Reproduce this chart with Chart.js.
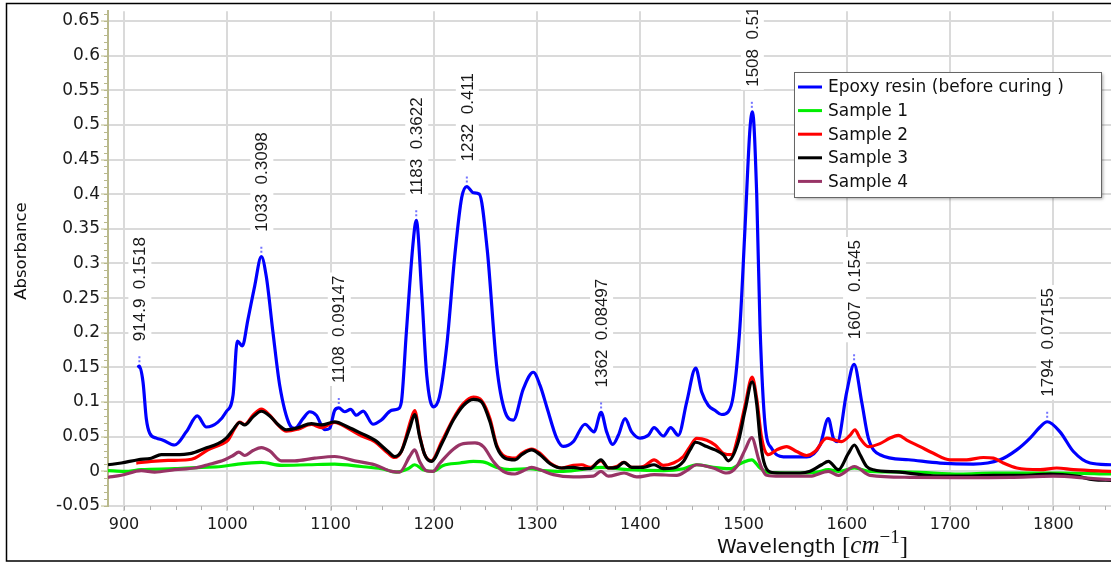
<!DOCTYPE html>
<html>
<head>
<meta charset="utf-8">
<title>FTIR spectra</title>
<script src="https://cdn.jsdelivr.net/npm/chart.js@4.4.1/dist/chart.umd.min.js"></script>
<style>
    html, body { margin: 0; padding: 0; background: #fff; }
    #wrap { width: 1111px; height: 562px; }
</style>
</head>
<body>
<div id="wrap"><canvas id="ftirChart" width="1111" height="562"></canvas></div>
<script>
// ==================== data ====================

const seriesNames = ['Epoxy resin (before curing )', 'Sample 1', 'Sample 2', 'Sample 3', 'Sample 4'];
const seriesColors = ['#0000ff', '#00ee00', '#ff0000', '#000000', '#983466'];

const epoxyWn = [913, 914.9, 918.4, 921.6, 924.9, 931.3, 937.8, 949, 960.3, 971, 979.7, 991, 999, 1005.6, 1009.7, 1014.6, 1020, 1026.5, 1033, 1037.8, 1044.3, 1050.8, 1060.5, 1065.3, 1073.3, 1079.8, 1086.2, 1094.4, 1099.2, 1104, 1108, 1113.7, 1119.5, 1125, 1131.5, 1141.1, 1149.2, 1158.9, 1165.3, 1168.6, 1173.4, 1179.9, 1183, 1188.3, 1193.2, 1199.5, 1205.4, 1212.5, 1220.5, 1227, 1232, 1238.3, 1244.1, 1251.8, 1260.9, 1269, 1277, 1286.7, 1296.4, 1302.9, 1309.4, 1319, 1325.4, 1335.1, 1346.4, 1355.2, 1362, 1367.4, 1373.3, 1378.7, 1385.2, 1391.6, 1399.7, 1407.7, 1413.3, 1422.3, 1429.4, 1436.8, 1444.9, 1453.6, 1459.5, 1465.9, 1472.3, 1478.8, 1485.2, 1490.1, 1496.5, 1501.4, 1506.2, 1508.6, 1512.7, 1515.9, 1520.8, 1527.2, 1538.5, 1561.1, 1574, 1582.1, 1586.9, 1590.8, 1599.8, 1607, 1614.4, 1620.8, 1632.1, 1659.8, 1690.2, 1722.5, 1748.3, 1764.5, 1777.4, 1787.1, 1794, 1806.4, 1819.4, 1835.5, 1856];
const epoxyAbs = [0.150, 0.1518, 0.129, 0.076, 0.055, 0.048, 0.045, 0.038, 0.057, 0.080, 0.064, 0.071, 0.086, 0.110, 0.188, 0.181, 0.219, 0.267, 0.3098, 0.281, 0.200, 0.124, 0.067, 0.062, 0.076, 0.086, 0.081, 0.060, 0.062, 0.088, 0.0915, 0.086, 0.0895, 0.081, 0.087, 0.068, 0.074, 0.088, 0.090, 0.100, 0.200, 0.329, 0.3622, 0.257, 0.138, 0.093, 0.107, 0.181, 0.314, 0.395, 0.411, 0.402, 0.400, 0.319, 0.152, 0.086, 0.074, 0.119, 0.143, 0.124, 0.093, 0.048, 0.036, 0.043, 0.068, 0.057, 0.085, 0.057, 0.039, 0.052, 0.076, 0.057, 0.048, 0.052, 0.063, 0.051, 0.063, 0.052, 0.100, 0.149, 0.114, 0.095, 0.088, 0.082, 0.086, 0.110, 0.210, 0.352, 0.495, 0.5188, 0.400, 0.210, 0.067, 0.033, 0.021, 0.021, 0.038, 0.076, 0.048, 0.043, 0.114, 0.1545, 0.100, 0.048, 0.024, 0.0167, 0.012, 0.0105, 0.0167, 0.031, 0.048, 0.064, 0.0716, 0.057, 0.0286, 0.012, 0.0095];

const sample1Wn = [884.5, 900.6, 916.7, 949.1, 974.9, 994.2, 1010.4, 1033, 1052.3, 1078.2, 1104, 1129.8, 1149.2, 1163.7, 1175, 1181.5, 1189.6, 1199.2, 1209.2, 1225.4, 1238.3, 1249.6, 1260.9, 1273.8, 1293.2, 1306.1, 1325.4, 1361.9, 1390, 1422.3, 1441.7, 1454.6, 1470.7, 1486.9, 1498.2, 1507.9, 1515.9, 1522.4, 1548.2, 1570.8, 1582.1, 1591.8, 1607.3, 1622.5, 1661.2, 1709.6, 1741.9, 1806.4, 1856];
const sample1Abs = [0.001, 0.0, 0.0024, 0.0038, 0.0057, 0.007, 0.0105, 0.0129, 0.0086, 0.0095, 0.0105, 0.007, 0.0038, -0.001, 0.0038, 0.0095, 0.0024, 0.0, 0.0086, 0.012, 0.0143, 0.0129, 0.0057, 0.0024, 0.0038, 0.001, 0.0, 0.0057, 0.0024, 0.001, 0.0038, 0.0095, 0.0057, 0.0038, 0.012, 0.0167, 0.0048, -0.001, -0.0024, -0.001, 0.0024, 0.0, 0.0048, 0.0, -0.001, -0.0038, -0.0024, -0.0024, -0.0038];

const sample2Wn = [911.9, 926.4, 942.6, 962, 968.4, 981.3, 994.2, 1000.7, 1007.2, 1012, 1016.9, 1024.9, 1033, 1041.1, 1049.1, 1057.2, 1068.5, 1081.4, 1091.1, 1104, 1116.9, 1129.8, 1142.8, 1155.7, 1162.1, 1168.5, 1178.2, 1181.5, 1186.3, 1191.2, 1197.6, 1207.7, 1218.9, 1228.6, 1238.3, 1246.4, 1254.4, 1260.9, 1269, 1278.7, 1285.1, 1294.8, 1302.9, 1312.6, 1323.9, 1335.1, 1343.2, 1351.3, 1361.9, 1369, 1377.1, 1384.2, 1391.6, 1402.9, 1413.3, 1422.3, 1432, 1441.7, 1448.1, 1454.6, 1464.3, 1472.4, 1480.4, 1488.5, 1494.9, 1501.4, 1508.3, 1512.7, 1517.5, 1524, 1532.1, 1541.7, 1551.4, 1561.1, 1569.1, 1580.5, 1588.5, 1595, 1603, 1607.9, 1612.7, 1620.8, 1632.1, 1641.8, 1649.9, 1658, 1670.9, 1683.8, 1699.9, 1716.1, 1732.2, 1741.9, 1751.5, 1764.5, 1787.1, 1803.2, 1819.4, 1856];
const sample2Abs = [0.012, 0.0143, 0.0157, 0.0167, 0.019, 0.031, 0.039, 0.045, 0.062, 0.071, 0.0676, 0.081, 0.090, 0.081, 0.067, 0.058, 0.061, 0.0676, 0.063, 0.0705, 0.062, 0.0514, 0.043, 0.026, 0.020, 0.0286, 0.076, 0.0875, 0.052, 0.024, 0.0152, 0.043, 0.076, 0.0976, 0.107, 0.102, 0.076, 0.038, 0.0214, 0.019, 0.026, 0.032, 0.026, 0.012, 0.0048, 0.0086, 0.0095, 0.0057, 0.0152, 0.0048, 0.007, 0.0129, 0.0057, 0.007, 0.0167, 0.0086, 0.012, 0.0214, 0.0357, 0.0476, 0.045, 0.038, 0.026, 0.024, 0.052, 0.095, 0.136, 0.105, 0.048, 0.024, 0.031, 0.0357, 0.0286, 0.0229, 0.0286, 0.048, 0.045, 0.043, 0.052, 0.060, 0.048, 0.0357, 0.040, 0.048, 0.052, 0.045, 0.0357, 0.026, 0.0167, 0.0167, 0.020, 0.019, 0.012, 0.0048, 0.0024, 0.0048, 0.0024, 0.0];

const sample3Wn = [884.5, 897.4, 913.6, 926.4, 936.1, 949.1, 965.2, 978.1, 991, 999.1, 1005.6, 1012, 1016.9, 1024.9, 1033, 1041.1, 1049.1, 1057.2, 1068.5, 1081.4, 1091.1, 1104, 1116.9, 1129.8, 1142.8, 1155.7, 1162.1, 1168.5, 1176.6, 1181.5, 1186.3, 1191.2, 1197.6, 1207.7, 1218.9, 1228.6, 1238.3, 1246.4, 1254.4, 1260.9, 1269, 1278.7, 1285.1, 1294.8, 1302.9, 1312.6, 1323.9, 1335.1, 1343.2, 1351.3, 1361.9, 1369, 1377.1, 1384.2, 1391.6, 1402.9, 1413.3, 1422.3, 1432, 1441.7, 1448.1, 1453.6, 1464.3, 1472.4, 1480.4, 1485.2, 1494.9, 1501.4, 1508.3, 1512.7, 1515.9, 1519.5, 1525.6, 1535.3, 1554.7, 1564.4, 1575.6, 1582.1, 1591.8, 1601.5, 1607.3, 1612.8, 1619.2, 1625.7, 1651.5, 1677.3, 1709.6, 1741.9, 1774.2, 1796.8, 1822.6, 1838.7, 1856];
const sample3Abs = [0.0095, 0.012, 0.0167, 0.019, 0.024, 0.024, 0.026, 0.033, 0.040, 0.048, 0.060, 0.0705, 0.067, 0.0786, 0.0867, 0.080, 0.0676, 0.060, 0.063, 0.069, 0.067, 0.0714, 0.064, 0.0548, 0.045, 0.0286, 0.0214, 0.0286, 0.062, 0.082, 0.050, 0.024, 0.0143, 0.040, 0.074, 0.095, 0.104, 0.100, 0.0714, 0.0357, 0.019, 0.0167, 0.024, 0.031, 0.024, 0.011, 0.0048, 0.0057, 0.0038, 0.0038, 0.0167, 0.0048, 0.0057, 0.0129, 0.0057, 0.0057, 0.0095, 0.0038, 0.0048, 0.0143, 0.031, 0.042, 0.0357, 0.031, 0.024, 0.0152, 0.043, 0.088, 0.129, 0.0976, 0.048, 0.0143, -0.001, -0.0024, -0.0024, 0.0, 0.0095, 0.0143, 0.0024, 0.026, 0.038, 0.024, 0.007, 0.0024, -0.001, -0.0057, -0.007, -0.0057, -0.0057, -0.0038, -0.007, -0.012, -0.013];

const sample4Wn = [884.5, 897.4, 916.7, 929.7, 949.1, 968.4, 981.3, 997.5, 1005.6, 1011.1, 1016.9, 1024.9, 1033, 1041.1, 1052.3, 1065.3, 1084.7, 1104, 1123.4, 1142.8, 1158.9, 1167, 1176.6, 1181.5, 1186.3, 1192.8, 1199.2, 1206, 1218.9, 1228.6, 1239.9, 1248, 1257.7, 1267.3, 1278.7, 1286.7, 1294.8, 1302.9, 1315.8, 1335.1, 1354.5, 1361.9, 1369, 1384.2, 1396.5, 1413.3, 1435.3, 1444.9, 1454.6, 1470.7, 1483.7, 1493.4, 1501.4, 1507.9, 1514.3, 1517.5, 1522.4, 1535.3, 1564.4, 1582.1, 1591.8, 1607.3, 1622.5, 1661.2, 1709.6, 1758, 1800, 1838.7, 1856];
const sample4Abs = [-0.0086, -0.0057, 0.001, -0.001, 0.0024, 0.0048, 0.0095, 0.0167, 0.0229, 0.0276, 0.0229, 0.030, 0.0343, 0.0295, 0.0152, 0.0152, 0.019, 0.0214, 0.0152, 0.0095, 0.0, -0.001, 0.0214, 0.031, 0.0143, 0.001, 0.0, 0.012, 0.032, 0.040, 0.041, 0.0357, 0.0143, 0.0, -0.0038, 0.001, 0.0057, 0.0024, -0.0048, -0.0081, -0.007, 0.0, -0.007, -0.0024, -0.0081, -0.0048, -0.0057, 0.001, 0.0095, 0.0048, -0.0024, 0.007, 0.031, 0.0486, 0.019, 0.0048, -0.0057, -0.007, -0.007, 0.0, -0.0057, 0.007, -0.0057, -0.0086, -0.009, -0.0086, -0.007, -0.0105, -0.012];

// labelled peaks of the epoxy spectrum
const peakWn = [914.9, 1033, 1108, 1183, 1232, 1362, 1508, 1607, 1794];
const peakAbs = [0.1518, 0.3098, 0.09147, 0.3622, 0.411, 0.08497, 0.5188, 0.1545, 0.07155];

// axis ranges / ticks
const xMin = 884.5, xMax = 1855.8, xStep = 100, xMinorStep = 25;
const yMin = -0.05, yMax = 0.664, yStep = 0.05, yMinorStep = 0.01;

// ==================== helpers ====================

function toPoints(wn, abs) {
    return wn.map((x, i) => ({ x: x, y: abs[i] }));
}

const wnLists = [epoxyWn, sample1Wn, sample2Wn, sample3Wn, sample4Wn];
const absLists = [epoxyAbs, sample1Abs, sample2Abs, sample3Abs, sample4Abs];
const drawOrder = [5, 4, 3, 2, 1];   // purple on top, blue at the bottom

const AXIS_OLIVE = '#b9b98c';
const GRID_GRAY = '#dadada';

// white page + border + axis titles + legend
const framePlugin = {
    id: 'frame',
    beforeDraw(chart) {
        const c = chart.ctx;
        c.save();
        c.fillStyle = '#fff';
        c.fillRect(0, 0, chart.width, chart.height);
        c.restore();
    },
    afterDraw(chart) {
        const c = chart.ctx;
        c.save();

        // outer frame (right edge lies outside the picture)
        c.strokeStyle = '#000';
        c.lineWidth = 1.5;
        c.beginPath();
        c.moveTo(chart.width + 2, 3.5);
        c.lineTo(6.5, 3.5);
        c.lineTo(6.5, 561);
        c.lineTo(chart.width + 2, 561);
        c.stroke();

        // y title
        c.fillStyle = '#111';
        c.font = '16.5px "DejaVu Sans"';
        c.textAlign = 'center';
        c.textBaseline = 'middle';
        c.translate(22, 251);
        c.rotate(-Math.PI / 2);
        c.fillText('Absorbance', 0, 0);
        c.setTransform(1, 0, 0, 1, 0, 0);

        // x title: Wavelength [cm^-1]
        const parts = [
            { t: 'Wavelength ', f: '20px "DejaVu Sans"', dy: 0 },
            { t: '[', f: '25px "Liberation Serif"', dy: 1 },
            { t: 'cm', f: 'italic 25px "Liberation Serif"', dy: 0 },
            { t: '\u22121', f: '19px "Liberation Serif"', dy: -10 },
            { t: ']', f: '25px "Liberation Serif"', dy: 1 }
        ];
        let total = 0;
        parts.forEach(p => { c.font = p.f; p.w = c.measureText(p.t).width; total += p.w; });
        let tx = 812.5 - total / 2;
        const base = 553;
        c.textAlign = 'left';
        c.textBaseline = 'alphabetic';
        parts.forEach(p => {
            c.font = p.f;
            c.fillText(p.t, tx, base + p.dy);
            tx += p.w;
        });

        // legend box
        const lx = 794, ly = 72, lw = 307, lh = 125;
        c.save();
        c.shadowColor = 'rgba(0,0,0,0.35)';
        c.shadowBlur = 3;
        c.shadowOffsetX = 2;
        c.shadowOffsetY = 2;
        c.fillStyle = '#fff';
        c.fillRect(lx, ly, lw, lh);
        c.restore();
        c.strokeStyle = '#666';
        c.lineWidth = 1;
        c.strokeRect(lx + 0.5, ly + 0.5, lw, lh);

        c.font = '17px "DejaVu Sans"';
        c.textBaseline = 'middle';
        chart.data.datasets.forEach((ds, i) => {
            const ry = 87 + i * 23.6;
            c.strokeStyle = ds.borderColor;
            c.lineWidth = 3;
            c.beginPath();
            c.moveTo(798, ry);
            c.lineTo(822, ry);
            c.stroke();
            c.fillStyle = '#111';
            c.fillText(ds.label, 828, ry + 1);
        });

        c.restore();
    }
};

// minor tick marks on both axes
const minorTickPlugin = {
    id: 'minorTicks',
    afterDraw(chart) {
        const c = chart.ctx;
        const xs = chart.scales.x, ys = chart.scales.y;
        const area = chart.chartArea;
        c.save();
        c.strokeStyle = AXIS_OLIVE;
        c.lineWidth = 1;
        c.beginPath();
        for (let v = yMin; v <= yMax + 1e-9; v += yMinorStep) {
            const py = Math.round(ys.getPixelForValue(v)) + 0.5;
            c.moveTo(area.left - 4, py);
            c.lineTo(area.left, py);
        }
        c.stroke();
        c.strokeStyle = '#b0b0b0';
        c.beginPath();
        for (let v = 900; v <= xMax; v += xMinorStep) {
            const px = Math.round(xs.getPixelForValue(v)) + 0.5;
            c.moveTo(px, area.bottom);
            c.lineTo(px, area.bottom + 4);
        }
        c.stroke();
        c.restore();
    }
};

// vertical peak labels with white backing and small dashed markers
const peakLabelPlugin = {
    id: 'peakLabels',
    beforeDatasetsDraw(chart) {
        const c = chart.ctx;
        const xs = chart.scales.x, ys = chart.scales.y;
        const area = chart.chartArea;
        c.save();
        c.beginPath();
        c.rect(area.left, area.top - 1, area.right - area.left, area.bottom - area.top + 1);
        c.clip();
        c.font = '17px "Liberation Sans"';
        c.textBaseline = 'middle';
        c.textAlign = 'left';
        peakWn.forEach((wn, i) => {
            const px = xs.getPixelForValue(wn);
            const py = ys.getPixelForValue(peakAbs[i]);
            const txt = wn + '  ' + peakAbs[i];
            const w = c.measureText(txt).width;
            c.save();
            c.translate(px, py - 25);
            c.rotate(-Math.PI / 2);
            c.fillStyle = '#fff';
            c.fillRect(-3, -11, w + 6, 23);
            c.fillStyle = '#1a1a1a';
            c.fillText(txt, 0, 1);
            c.restore();
        });
        c.restore();
    },
    afterDatasetsDraw(chart) {
        const c = chart.ctx;
        const xs = chart.scales.x, ys = chart.scales.y;
        c.save();
        c.strokeStyle = 'rgba(70,70,255,0.75)';
        c.lineWidth = 2;
        c.setLineDash([2, 2]);
        peakWn.forEach((wn, i) => {
            const px = xs.getPixelForValue(wn);
            const py = ys.getPixelForValue(peakAbs[i]);
            c.beginPath();
            c.moveTo(px, py - 4);
            c.lineTo(px, py - 12);
            c.stroke();
        });
        c.restore();
    }
};

// ==================== chart ====================

Chart.defaults.font.family = '"DejaVu Sans"';
Chart.defaults.color = '#1a1a1a';

const ctx = document.getElementById('ftirChart');

const ftirChart = new Chart(ctx, {
    type: 'line',
    data: {
        datasets: seriesNames.map((name, i) => ({
            label: name,
            data: toPoints(wnLists[i], absLists[i]),
            borderColor: seriesColors[i],
            backgroundColor: seriesColors[i],
            borderWidth: 3.2,
            pointRadius: 0,
            fill: false,
            cubicInterpolationMode: 'monotone',
            order: drawOrder[i]
        }))
    },
    options: {
        responsive: false,
        animation: false,
        devicePixelRatio: 1,
        layout: { padding: { top: 5, left: 0, right: 0, bottom: 0 } },
        plugins: {
            legend: { display: false },
            tooltip: { enabled: false },
            title: { display: false }
        },
        scales: {
            x: {
                type: 'linear',
                min: xMin,
                max: xMax,
                afterFit: s => { s.height = 56; },
                border: { display: false },
                grid: {
                    color: GRID_GRAY,
                    lineWidth: 2,
                    tickLength: 5,
                    tickColor: '#b0b0b0',
                    tickWidth: 1
                },
                ticks: {
                    stepSize: xStep,
                    includeBounds: false,
                    autoSkip: false,
                    maxRotation: 0,
                    padding: 4,
                    font: { size: 16 },
                    callback: v => String(v)
                }
            },
            y: {
                min: yMin,
                max: yMax,
                afterFit: s => { s.width = 108; },
                border: { display: true, color: AXIS_OLIVE, width: 2 },
                grid: {
                    color: GRID_GRAY,
                    lineWidth: 2,
                    tickLength: 7,
                    tickColor: AXIS_OLIVE,
                    tickWidth: 1
                },
                ticks: {
                    stepSize: yStep,
                    includeBounds: false,
                    autoSkip: false,
                    padding: 1,
                    font: { size: 17 },
                    callback: v => String(parseFloat(v.toFixed(2)))
                }
            }
        }
    },
    plugins: [framePlugin, minorTickPlugin, peakLabelPlugin]
});
</script>
</body>
</html>
